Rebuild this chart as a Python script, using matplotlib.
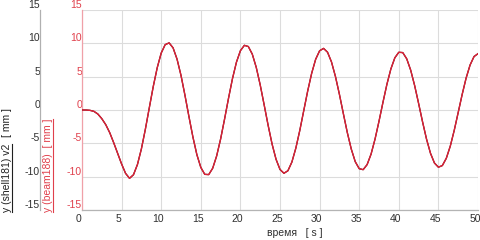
import numpy as np
import matplotlib
matplotlib.use('Agg')
import matplotlib.pyplot as plt
from matplotlib.lines import Line2D
from matplotlib.transforms import ScaledTranslation

plt.rcParams['font.family'] = ['Liberation Sans', 'DejaVu Sans']
plt.rcParams['axes.unicode_minus'] = False

# время, s (шаг 0.5 s)
t = np.arange(0, 50.01, 0.5)

# y (beam188), mm
y_beam = [0.0, 0.0, -0.05, -0.2, -0.6, -1.3, -2.2, -3.4, -4.9, -6.5,
          -8.1, -9.5, -10.25, -9.71, -8.18, -5.83, -2.89, 0.35, 3.54, 6.35,
          8.54, 9.80, 10.07, 9.32, 7.63, 5.19, 2.21, -0.97, -4.03, -6.68,
          -8.61, -9.65, -9.69, -8.74, -6.90, -4.36, -1.37, 1.76, 4.71, 7.17,
          8.89, 9.70, 9.52, 8.38, 6.40, 3.77, 0.77, -2.29, -5.11, -7.39,
          -8.92, -9.49, -9.11, -7.81, -5.72, -3.06, -0.09, 2.87, 5.51, 7.60,
          8.88, 9.24, 8.67, 7.21, 5.03, 2.36, -0.55, -3.39, -5.86, -7.75,
          -8.80, -8.95, -8.19, -6.61, -4.36, -1.69, 1.15, 3.86, 6.16, 7.83,
          8.66, 8.61, 7.68, 5.98, 3.67, 0.99, -1.78, -4.36, -6.49, -7.95,
          -8.58, -8.33, -7.24, -5.42, -3.05, -0.37, 2.33, 4.79, 6.75, 8.02,
          8.45]

# y (shell181) v2, mm - practically the same curve
y_shell = list(y_beam)

xticks = [0, 5, 10, 15, 20, 25, 30, 35, 40, 45, 50]
yticks = [-15, -10, -5, 0, 5, 10, 15]

red = '#dc2236'
red_lbl = '#e0404c'
dark = '#303030'
fs = 7.5

fig = plt.figure(figsize=(4.81, 2.40), dpi=100)
ax = fig.add_axes([82/481, 30/240, 396/481, 200/240])

ax.plot(t, y_shell, color='#400010', lw=0.9, zorder=3)
ax.plot(t, y_beam, color=red, lw=1.0, zorder=4)

ax.set_xlim(0, 50)
ax.set_ylim(-15, 15)
ax.set_xticks(xticks)
ax.set_yticks(yticks)
ax.grid(True, color='#dcdcdc', lw=0.8)
ax.set_axisbelow(True)

for s in ['top', 'right']:
    ax.spines[s].set_visible(False)
ax.spines['left'].set_color('#f0a0a8')
ax.spines['bottom'].set_color('#b4b4b4')
ax.spines['left'].set_linewidth(0.9)
ax.spines['bottom'].set_linewidth(0.9)

ax.tick_params(axis='x', length=0, pad=3, labelsize=fs, colors=dark)
ax.tick_params(axis='y', length=0, pad=0, labelsize=fs, colors=red_lbl)
shift = ScaledTranslation(-3/100, 0, fig.dpi_scale_trans)
for lbl in ax.get_xticklabels():
    lbl.set_transform(lbl.get_transform() + shift)
for lbl in ax.get_yticklabels():
    lbl.set_va('bottom')

# второй (чёрный) y axis слева
ax2 = ax.twinx()
ax2.set_ylim(-15, 15)
ax2.set_yticks(yticks)
ax2.yaxis.set_ticks_position('left')
ax2.spines['left'].set_position(('axes', -42/396))
ax2.spines['left'].set_color('#b0b0b0')
ax2.spines['left'].set_linewidth(0.9)
for s in ['top', 'right', 'bottom']:
    ax2.spines[s].set_visible(False)
ax2.tick_params(axis='y', length=0, pad=0, labelsize=fs, colors=dark)
for lbl in ax2.get_yticklabels():
    lbl.set_va('bottom')

fig.text(295/481, 1 - 233/240, 'время   [ s ]', ha='center', va='center',
         fontsize=fs, color=dark)

# подписи осей y с подчёркиванием
renderer = fig.canvas.get_renderer()


def ylabel_underlined(xpx, ypx, under, rest, color):
    t1 = fig.text(xpx/481, ypx/240, under, rotation=90, ha='center',
                  va='bottom', fontsize=fs, color=color)
    bb = t1.get_window_extent(renderer)
    fig.add_artist(Line2D([bb.x1/481 - 0.3/481] * 2, [bb.y0/240, bb.y1/240],
                          color=color, lw=0.8))
    if rest:
        fig.text(xpx/481, (bb.y1 + 7)/240, rest, rotation=90, ha='center',
                 va='bottom', fontsize=fs, color=color)


ylabel_underlined(7, 28, 'y (shell181) v2', '[ mm ]', '#202020')
ylabel_underlined(48, 28, 'y (beam188)  [ mm ]', None, red_lbl)

fig.savefig('out.png', dpi=100)
